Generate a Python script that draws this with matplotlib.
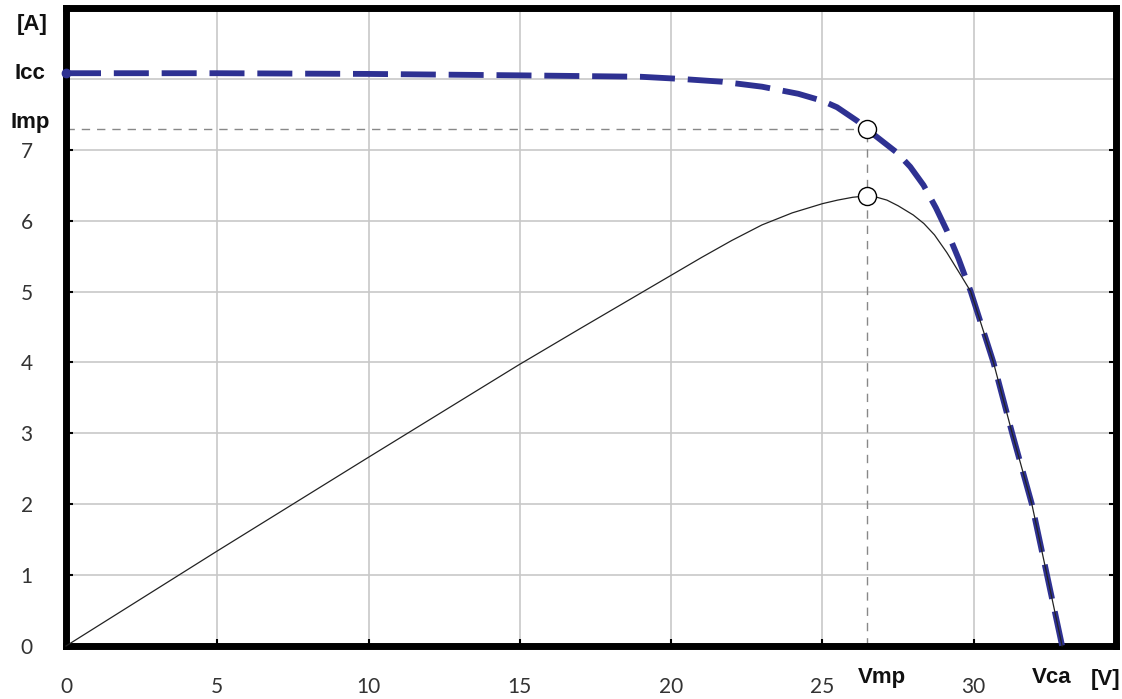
import matplotlib.pyplot as plt

# I-V curve of the module (current, A)
volt_i = [0, 5, 10, 15, 19, 20.3, 21.68, 23.0, 24.2, 25.0, 25.48, 26.14, 26.47, 26.95, 27.46,
          27.9, 28.34, 28.75, 29.11, 29.5, 29.9, 30.65, 31.27, 31.92, 32.42, 32.92]
curr_i = [8.08, 8.08, 8.07, 8.05, 8.03, 8.0, 7.96, 7.89, 7.79, 7.69, 7.6, 7.41, 7.29, 7.13, 6.96,
          6.76, 6.5, 6.18, 5.86, 5.46, 5.0, 4.0, 3.0, 2.0, 1.0, 0]

# power curve (scaled to the current axis)
volt_p = [0, 4.96, 9.95, 14.94, 17, 19, 20, 21, 22, 23, 24, 25, 25.5, 26, 26.47, 26.8, 27.13,
          27.5, 28.0, 28.35, 28.7, 29.11, 29.5, 29.9, 30.65, 31.27, 31.92, 32.42, 32.92]
power_p = [0, 1.33, 2.65, 3.96, 4.48, 4.98, 5.23, 5.48, 5.72, 5.94, 6.11, 6.24, 6.29, 6.33, 6.35,
           6.33, 6.29, 6.21, 6.08, 5.96, 5.8, 5.55, 5.28, 5.0, 4.0, 3.0, 2.0, 1.0, 0]

# special points
vmp = 26.47
imp = 7.29
pmax = 6.35
icc = 8.08
vca = 32.92

xticks = [0, 5, 10, 15, 20, 25, 30]
yticks = [0, 1, 2, 3, 4, 5, 6, 7]

fig = plt.figure(figsize=(11.22, 6.99), dpi=100)
ax = fig.add_axes([66 / 1122, 53 / 699, 1050 / 1122, 638 / 699])

ax.set_xlim(0, 34.7)
ax.set_ylim(0, 9)

# grid
ax.set_xticks(xticks)
ax.set_yticks(yticks)
ax.set_yticks([8], minor=True)
ax.grid(True, which='both', color='#c8c8c8', linewidth=1.2, zorder=0)
ax.set_axisbelow(True)

# reference lines at the maximum power point
ax.plot([0, vmp], [imp, imp], color='#888888', linewidth=1.0, dashes=(6, 5), zorder=2)
ax.plot([vmp, vmp], [0, imp], color='#888888', linewidth=1.0, dashes=(6, 5), zorder=2)

# current curve
ax.plot(volt_i, curr_i, color='#2e3192', linewidth=4.2, dashes=(6, 2.2), zorder=3,
        marker='o', markevery=[0], markersize=6, clip_on=False)
# power curve
ax.plot(volt_p, power_p, color='#222222', linewidth=0.9, zorder=4, clip_on=False)

# markers
ax.plot([vmp, vmp], [imp, pmax], 'o', markersize=13, markerfacecolor='white',
        markeredgecolor='black', markeredgewidth=1.0, zorder=5)

for s in ax.spines.values():
    s.set_linewidth(5)
    s.set_color('black')

ax.tick_params(axis='both', which='major', direction='in', length=5, width=1.5,
               right=True, top=False, labelsize=15, labelcolor='#333333')
ax.tick_params(axis='y', which='minor', length=0, left=False, right=False)
ax.tick_params(axis='x', pad=22)
ax.tick_params(axis='y', pad=24)
ax.set_xticklabels([str(t) for t in xticks], fontfamily='Lato')
ax.set_yticklabels([str(t) for t in yticks], fontfamily='Lato')

# bold labels
bold = dict(fontsize=16, fontweight='bold', fontfamily='Liberation Sans', color='#111111')
ax.text(-0.034, icc, 'Icc', transform=ax.get_yaxis_transform(), ha='center', va='center', **bold)
ax.text(-0.034, imp + 0.1, 'Imp', transform=ax.get_yaxis_transform(), ha='center', va='center', **bold)
ax.text(-0.032, 0.99, '[A]', transform=ax.transAxes, ha='center', va='top', **bold)
ax.text(vmp + 0.5, -0.033, 'Vmp', transform=ax.get_xaxis_transform(), ha='center', va='top', **bold)
ax.text(vca - 0.35, -0.033, 'Vca', transform=ax.get_xaxis_transform(), ha='center', va='top', **bold)
ax.text(1.004, -0.036, '[V]', transform=ax.transAxes, ha='right', va='top', **bold)

fig.savefig('out.png', dpi=100)
